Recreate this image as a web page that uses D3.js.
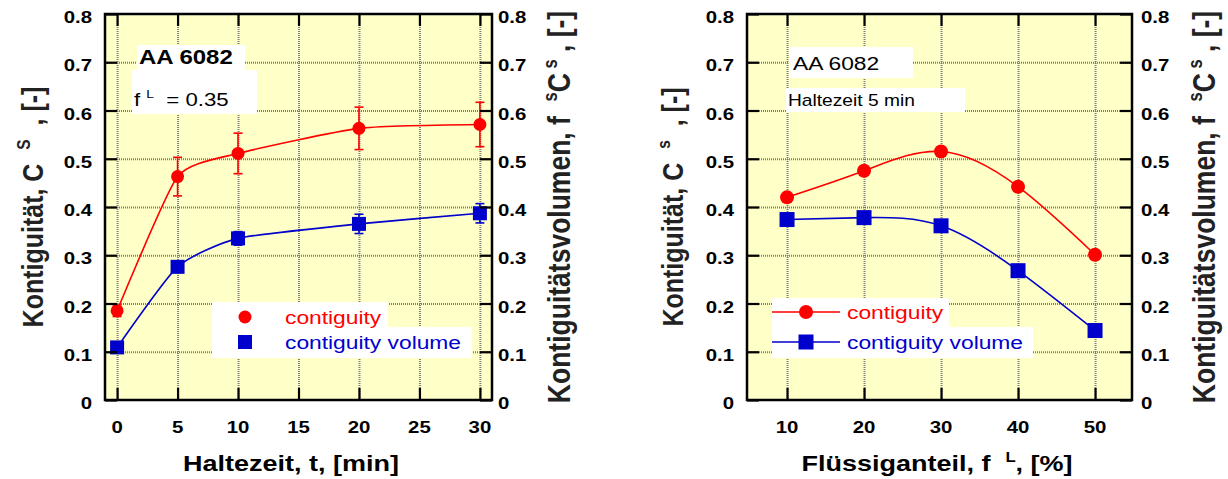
<!DOCTYPE html>
<html>
<head>
<meta charset="utf-8">
<script src="https://cdn.jsdelivr.net/npm/d3@7"></script>
<style>
body { margin: 0; background: #fff; }
text { font-family: Arial, 'Liberation Sans', sans-serif; white-space: pre; }
</style>
</head>
<body>
<div class="canvas"></div>
<script>
/*** DATA ***/
// left panel: holding time in minutes
const holdTimes = [0, 5, 10, 20, 30];
const contiguityByTime = [0.185, 0.463, 0.511, 0.563, 0.571];
const contiguityByTimeErr = [0.012, 0.040, 0.042, 0.044, 0.046];
const volumeByTime = [0.109, 0.276, 0.335, 0.365, 0.387];
const volumeByTimeErr = [0, 0.008, 0.014, 0.02, 0.02];

// right panel: liquid fraction in %
const liquidFractions = [10, 20, 30, 40, 50];
const contiguityByLiquid = [0.420, 0.475, 0.515, 0.442, 0.301];
const volumeByLiquid = [0.374, 0.378, 0.361, 0.268, 0.144];

const yTicks = [0, 0.1, 0.2, 0.3, 0.4, 0.5, 0.6, 0.7, 0.8];
const timeTicks = [0, 5, 10, 15, 20, 25, 30];
const liquidTicks = [10, 20, 30, 40, 50];

const seriesNames = ['contiguity', 'contiguity volume'];

/*** SETUP ***/
const svgWidth = 1228;
const svgHeight = 479;
const stretch = 1.2;   // the source picture is wider than tall, so the text is too
const red = '#ff0000';
const blue = '#0000cc';

const svg = d3.select('.canvas')
    .append('svg')
    .attr('width', svgWidth)
    .attr('height', svgHeight);

const plotTop = 14;
const plotBottom = 400;

const y = d3.scaleLinear()
    .domain([0, 0.8])
    .range([plotBottom, plotTop]);

const fmtY = d => d === 0 ? '0' : d.toFixed(1);

// text with optional superscripts; parts = [[text, isSup], ...]
function richText(g, x, y, parts, opts) {
    const rot = opts.rotate ? ' rotate(-90)' : '';
    const t = g.append('text')
        .attr('transform', `translate(${x},${y}) scale(${stretch},1)${rot}`)
        .attr('text-anchor', opts.anchor || 'start')
        .attr('font-size', opts.size)
        .attr('font-weight', opts.bold ? 'bold' : 'normal')
        .attr('fill', opts.color || '#000');
    let up = false;
    parts.forEach(([s, sup]) => {
        const sp = t.append('tspan').text(s);
        if (sup && !up) { sp.attr('dy', -opts.size * 0.42).attr('font-size', opts.size * 0.62); up = true; }
        else if (!sup && up) { sp.attr('dy', opts.size * 0.42); up = false; }
        else if (sup) sp.attr('font-size', opts.size * 0.62);
    });
    return t;
}

function marker(g, shape, cx, cy, color, size) {
    if (shape === 'circle') {
        g.append('circle').attr('cx', cx).attr('cy', cy).attr('r', size / 2).attr('fill', color);
    } else {
        g.append('rect').attr('x', cx - size / 2).attr('y', cy - size / 2)
            .attr('width', size).attr('height', size).attr('fill', color);
    }
}

function drawPanel(cfg) {
    const x = d3.scaleLinear().domain(cfg.xDomain).range([cfg.left, cfg.right]);
    const g = svg.append('g');
    const w = cfg.right - cfg.left;
    const h = plotBottom - plotTop;

    g.append('rect')
        .attr('x', cfg.left).attr('y', plotTop)
        .attr('width', w).attr('height', h)
        .attr('fill', '#ffffc8');

    // grid
    const gridX = g.append('g')
        .attr('transform', `translate(0, ${plotBottom})`)
        .call(d3.axisBottom(x).tickValues(cfg.xTicks).tickSize(-h).tickFormat(''));
    const gridY = g.append('g')
        .attr('transform', `translate(${cfg.left}, 0)`)
        .call(d3.axisLeft(y).tickValues(yTicks.slice(1, -1)).tickSize(-w).tickFormat(''));
    [gridX, gridY].forEach(a => {
        a.select('.domain').remove();
        a.selectAll('line').attr('stroke', '#7d7d7d').attr('stroke-width', 2).attr('stroke-dasharray', '1,1');
    });

    // white label boxes
    cfg.boxes.forEach(b => {
        g.append('rect').attr('x', b[0]).attr('y', b[1])
            .attr('width', b[2] - b[0]).attr('height', b[3] - b[1]).attr('fill', '#fff');
    });

    // series
    cfg.series.forEach(s => {
        const line = d3.line()
            .x((d, i) => x(cfg.xs[i]))
            .y(d => y(d))
            .curve(cfg.curve);
        g.append('path')
            .attr('d', line(s.values))
            .attr('fill', 'none')
            .attr('stroke', s.color)
            .attr('stroke-width', 1.6);

        if (s.err) {
            s.values.forEach((v, i) => {
                const e = s.err[i];
                if (!e) return;
                const cx = x(cfg.xs[i]);
                const eg = g.append('g').attr('stroke', s.color).attr('stroke-width', 1.6);
                eg.append('line').attr('x1', cx).attr('x2', cx).attr('y1', y(v - e)).attr('y2', y(v + e));
                eg.append('line').attr('x1', cx - 4.5).attr('x2', cx + 4.5).attr('y1', y(v - e)).attr('y2', y(v - e));
                eg.append('line').attr('x1', cx - 4.5).attr('x2', cx + 4.5).attr('y1', y(v + e)).attr('y2', y(v + e));
            });
        }
        s.values.forEach((v, i) => marker(g, s.shape, x(cfg.xs[i]), y(v), s.color, s.size));
    });

    // frame + inward ticks
    const axes = [
        [d3.axisBottom(x).tickValues(cfg.xTicks), `translate(0, ${plotBottom})`],
        [d3.axisTop(x).tickValues(cfg.xTicks), `translate(0, ${plotTop})`],
        [d3.axisLeft(y).tickValues(yTicks), `translate(${cfg.left}, 0)`],
        [d3.axisRight(y).tickValues(yTicks), `translate(${cfg.right}, 0)`]
    ];
    axes.forEach(([ax, tr]) => {
        const a = g.append('g').attr('transform', tr)
            .call(ax.tickSize(-12).tickSizeOuter(0).tickFormat(''));
        a.select('.domain').remove();
        a.selectAll('line').attr('stroke', '#000').attr('stroke-width', 2.2);
    });
    g.append('rect')
        .attr('x', cfg.left).attr('y', plotTop)
        .attr('width', w).attr('height', h)
        .attr('fill', 'none').attr('stroke', '#000').attr('stroke-width', 2.5);

    // tick labels
    yTicks.forEach(t => {
        richText(g, cfg.left - 13, y(t) + 9, [[fmtY(t)]], { size: 17, bold: true, anchor: 'end' });
        richText(g, cfg.right + cfg.rightGap, y(t) + 9, [[fmtY(t)]], { size: 17, bold: true });
    });
    cfg.xTicks.forEach(t => {
        richText(g, x(t), 433, [[String(t)]], { size: 17, bold: true, anchor: 'middle' });
    });

    // axis titles
    richText(g, cfg.xTitleX, 471, cfg.xTitle, { size: 22.5, bold: true, anchor: 'middle' });
    richText(g, cfg.yTitleLX, 207, cfg.yTitleL, { size: 25, bold: true, anchor: 'middle', rotate: true, color: '#222' });
    richText(g, cfg.yTitleRX, 207, cfg.yTitleR, { size: 26.5, bold: true, anchor: 'middle', rotate: true, color: '#222' });

    cfg.notes.forEach(n => richText(g, n.x, n.y, n.parts, n.opts));

    // legend
    const lg = cfg.legend;
    cfg.series.forEach((s, i) => {
        const ly = lg.ys[i];
        if (lg.line) {
            g.append('line').attr('x1', lg.line[0]).attr('x2', lg.line[1])
                .attr('y1', ly).attr('y2', ly).attr('stroke', s.color).attr('stroke-width', 1.6);
        }
        marker(g, s.shape, lg.mx, ly, s.color, s.size);
        richText(g, lg.tx, ly + 6.5, [[seriesNames[i]]], { size: 19, color: s.color });
    });
}

drawPanel({
    left: 105, right: 492, rightGap: 6,
    xDomain: [-1, 31], xTicks: timeTicks, xs: holdTimes,
    curve: d3.curveCardinal.tension(0.45),
    series: [
        { values: contiguityByTime, err: contiguityByTimeErr, color: red, shape: 'circle', size: 13 },
        { values: volumeByTime, err: volumeByTimeErr, color: blue, shape: 'square', size: 14 }
    ],
    boxes: [[137, 45, 245, 70], [132, 70, 257, 114], [212, 302, 388, 328], [212, 327, 472, 358]],
    notes: [
        { x: 139, y: 64, parts: [['AA 6082']], opts: { size: 20, bold: true } },
        { x: 134, y: 106, parts: [['f '], ['L', true], ['  = 0.35']], opts: { size: 18.5 } }
    ],
    legend: { ys: [317, 342], mx: 245, tx: 285 },
    xTitle: [['Haltezeit, t, [min]']], xTitleX: 291,
    yTitleL: [['Kontiguität, C  '], ['S', true], ['  , [-]']], yTitleLX: 43,
    yTitleR: [['Kontiguitätsvolumen, f  '], ['s', true], ['C'], [' s', true], [' , [-]']], yTitleRX: 570
});

drawPanel({
    left: 747, right: 1132, rightGap: 9,
    xDomain: [4.8, 54.8], xTicks: liquidTicks, xs: liquidFractions,
    curve: d3.curveNatural,
    series: [
        { values: contiguityByLiquid, color: red, shape: 'circle', size: 14 },
        { values: volumeByLiquid, color: blue, shape: 'square', size: 15 }
    ],
    boxes: [[789, 47, 913, 78], [786, 88, 965, 112], [772, 298, 949, 328], [772, 327, 1033, 358]],
    notes: [
        { x: 793, y: 70, parts: [['AA 6082']], opts: { size: 19 } },
        { x: 788, y: 106, parts: [['Haltezeit 5 min']], opts: { size: 16 } }
    ],
    legend: { ys: [312, 342], mx: 806, tx: 847, line: [772, 840] },
    xTitle: [['Flüssiganteil, f  '], ['L', true], [', [%]']], xTitleX: 937,
    yTitleL: [['Kontiguität, C  '], ['s', true], ['  , [-]']], yTitleLX: 683,
    yTitleR: [['Kontiguitätsvolumen, f  '], ['s', true], ['C'], [' s', true], [' , [-]']], yTitleRX: 1215
});
</script>
</body>
</html>
